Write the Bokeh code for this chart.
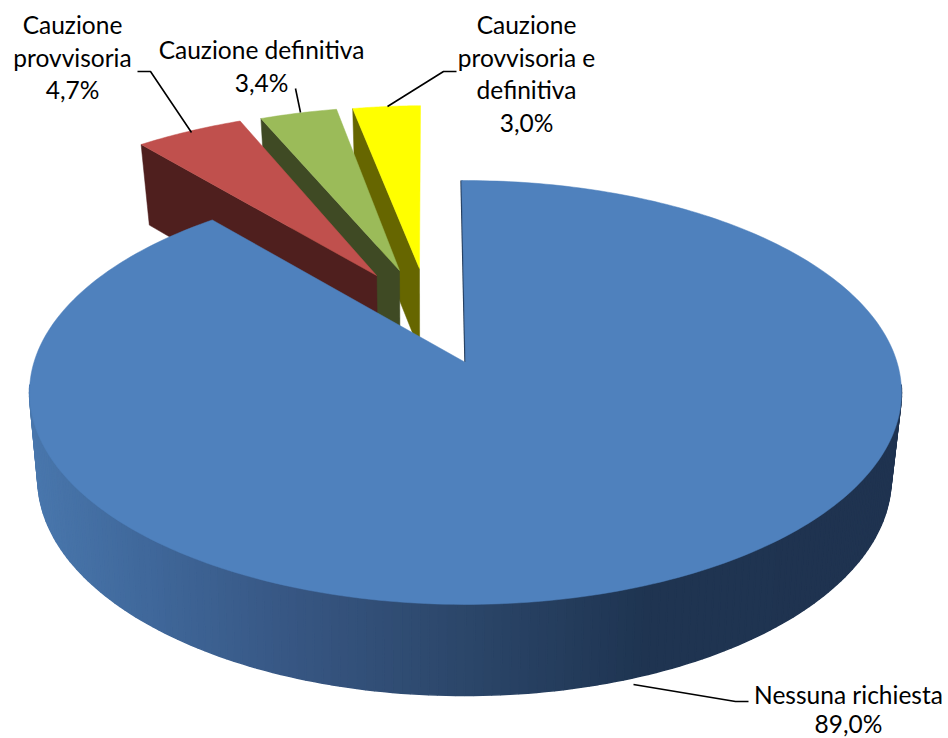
import numpy as np
from bokeh.plotting import figure
from bokeh.models import Range1d
from bokeh.core.properties import value
from bokeh.embed import file_html
from bokeh.resources import INLINE

# ---- data ----
categories = ["Nessuna richiesta", "Cauzione provvisoria", "Cauzione definitiva", "Cauzione provvisoria e definitiva"]
percent = [89.0, 4.7, 3.4, 3.0]
top_colors = ["#4F81BD", "#C0504D", "#9BBB59", "#FFFF00"]
wall_colors = ["#1F3552", "#4F1F1E", "#3F4A24", "#666600"]

# ---- projection of the pie (perspective of a tilted disc) ----
TOP = dict(cx=465.0, cy=362.0, a=431.6, b=207.7, k=0.1415)
LOW = dict(cx=464.0, cy=446.0, a=422.0, b=212.3, k=0.1475)
# explosion of each slice in disc units (u right, v away), its turn and radius
explode = [(0.0, 0.0), (-0.219, 0.445), (-0.1632, 0.4726), (-0.1139, 0.4835)]
turn = [-0.6, -0.2, -0.4, -0.7]
radius = [1.0, 1.03, 1.02, 1.015]
RIM_VISIBLE = (96.0, 264.0)


def project(u, v, m):
    d = 1 + m["k"] * v
    return m["cx"] + m["a"] * u / d, m["cy"] - m["b"] * v / d


def rim(t0, t1, n, off, r=1.0):
    t = np.radians(np.linspace(t0, t1, n))
    return off[0] + r * np.sin(t), off[1] + r * np.cos(t)


total = sum(percent)
edges = np.concatenate([[0.0], np.cumsum(percent) / total * 360.0])

p = figure(width=948, height=738, output_backend="svg", toolbar_location=None,
           x_range=Range1d(0, 948), y_range=Range1d(738, 0), min_border=0,
           outline_line_color=None, background_fill_color="white")
p.axis.visible = False
p.grid.visible = False

# exploded slices, back to front: yellow, green, red
for i in [3, 2, 1]:
    off = explode[i]
    t0, t1 = edges[i] + turn[i], edges[i + 1] + turn[i]
    uu, vv = rim(t0, t1, 30, off, radius[i])
    ax, ay = project(off[0], off[1], TOP)
    bx, by = project(uu[0], vv[0], TOP)
    cx, cy = project(uu[0], vv[0], LOW)
    dx, dy = project(off[0], off[1], LOW)
    p.patch([ax, bx, cx, dx], [ay, by, cy, dy], fill_color=wall_colors[i], line_color=wall_colors[i], line_width=0.5)
    tx, ty = project(np.r_[off[0], uu], np.r_[off[1], vv], TOP)
    p.patch(tx, ty, fill_color=top_colors[i], line_color=top_colors[i], line_width=0.5)

# blue slice: shaded rim in strips
GRAD_X = [30, 150, 300, 450, 640, 902]
GRAD_R = [74, 64, 55, 45, 31, 31]
GRAD_G = [120, 104, 86, 72, 53, 51]
GRAD_B = [174, 155, 130, 108, 82, 80]
n = 160
su, sv = rim(RIM_VISIBLE[0], RIM_VISIBLE[1], n + 1, explode[0])
sx, sy = project(su, sv, TOP)
lx, ly = project(su, sv, LOW)
xs, ys, cols = [], [], []
for j in range(n):
    xs.append([sx[j], sx[j + 1], lx[j + 1], lx[j]])
    ys.append([sy[j], sy[j + 1], ly[j + 1], ly[j]])
    mid = 0.5 * (lx[j] + lx[j + 1])
    r = np.interp(mid, GRAD_X, GRAD_R)
    g = np.interp(mid, GRAD_X, GRAD_G)
    b = np.interp(mid, GRAD_X, GRAD_B)
    cols.append("#%02x%02x%02x" % (int(r), int(g), int(b)))
p.patches(xs, ys, fill_color=cols, line_color=cols, line_width=1.5)

# blue top surface, with the thin visible sliver of its wall at 12 o'clock
su, sv = rim(edges[0] + turn[0], edges[1] + turn[0], 300, explode[0])
tx, ty = project(su, sv, TOP)
ax, ay = project(0, 0, TOP)
p.line([tx[0], ax], [ty[0], ay], line_color="#1F3552", line_width=2.4)
p.patch(np.r_[ax, tx], np.r_[ay, ty], fill_color=top_colors[0], line_color=top_colors[0], line_width=0.5)

# leader lines
leader_x = [[633, 735, 748], [137, 150, 191], [295, 300], [456, 443, 387]]
leader_y = [[684, 701, 701], [71, 71, 132], [88, 112], [71, 71, 106]]
p.multi_line(leader_x, leader_y, line_color="black", line_width=1.6)


# labels
def pct(v):
    return f"{v:.1f}%".replace(".", ",")


line_text = ["Nessuna richiesta", pct(percent[0]),
             "Cauzione", "provvisoria", pct(percent[1]),
             "Cauzione definitiva", pct(percent[2]),
             "Cauzione", "provvisoria e", "definitiva", pct(percent[3])]
line_x = [848, 848, 72, 72, 72, 261, 261, 526, 526, 526, 526]
line_y = [694, 723, 24, 57, 89, 49, 82, 24, 57, 89, 122]
p.text(line_x, line_y, text=line_text, text_align="center", text_baseline="middle",
       text_font=value("Lato"), text_font_size="24.5px", text_color="black")

open("out.html", "w").write(file_html(p, INLINE))
